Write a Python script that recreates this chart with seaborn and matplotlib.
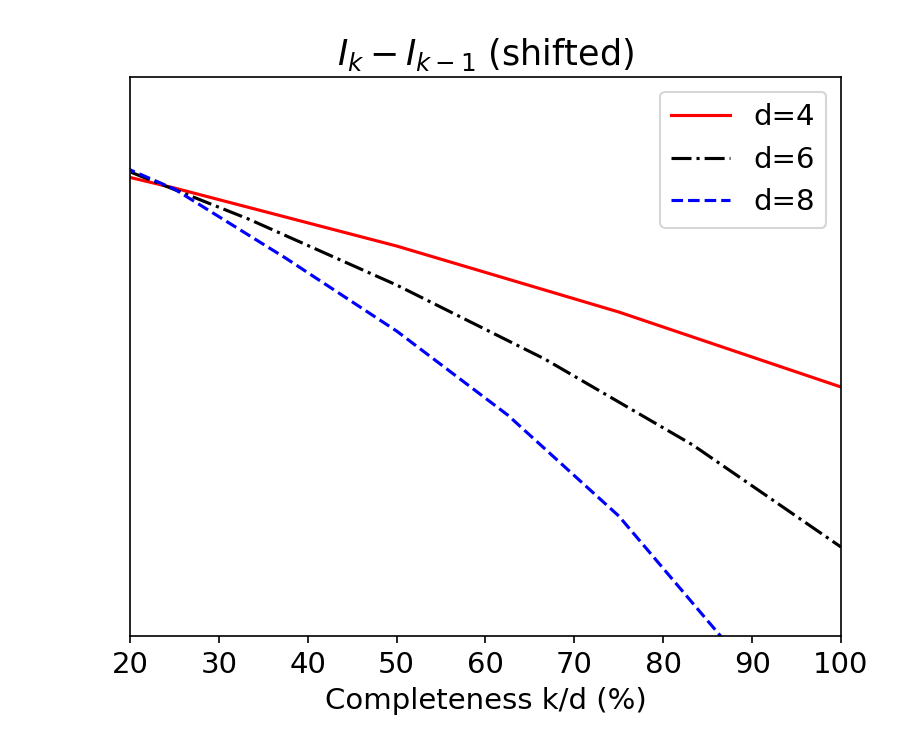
import matplotlib
matplotlib.use("Agg")
import matplotlib.pyplot as plt
import numpy as np
import pandas as pd
import seaborn as sns

# completeness k/d (%) for each dimension d
x_d4 = [0.0, 25.0, 50.0, 75.0, 100.0]
x_d6 = [16.67, 33.33, 50.0, 66.67, 83.33, 100.0]
x_d8 = [12.5, 25.0, 37.5, 50.0, 62.5, 75.0, 87.5, 100.0]

# shifted I_k - I_{k-1} values (arbitrary units)
y_d4 = [5.01, 4.48, 3.90, 3.24, 2.49]
y_d6 = [4.76, 4.17, 3.51, 2.77, 1.91, 0.89]
y_d8 = [4.95, 4.47, 3.78, 3.05, 2.21, 1.20, -0.11, -1.55]

labels = ["d=4", "d=6", "d=8"]
xticks = [20, 30, 40, 50, 60, 70, 80, 90, 100]

series = [
    (x_d4, y_d4, "red", "-"),
    (x_d6, y_d6, "black", "-."),
    (x_d8, y_d8, "blue", "--"),
]

plt.rcParams["font.family"] = ["DejaVu Sans"]
plt.rcParams["font.size"] = 14

fig, ax = plt.subplots(figsize=(6, 5), dpi=150)
fig.subplots_adjust(left=0.1444, right=0.9344, top=0.8973, bottom=0.152)

for (xs, ys, color, ls), lab in zip(series, labels):
    df = pd.DataFrame({"x": xs, "y": ys})
    sns.lineplot(data=df, x="x", y="y", color=color, linestyle=ls,
                 linewidth=1.5, label=lab, ax=ax)

ax.set_xlim(20, 100)
ax.set_ylim(0, 5.59)
ax.set_xticks(xticks)
ax.set_yticks([])
ax.set_ylabel("")
ax.set_xlabel("Completeness k/d (%)", fontsize=14)
ax.tick_params(axis="x", labelsize=14)
ax.set_title(r"$I_k - I_{k-1}$ (shifted)", fontsize=16.8)
ax.legend(loc="upper right", fontsize=14)

plt.savefig("out.png", dpi=150)
